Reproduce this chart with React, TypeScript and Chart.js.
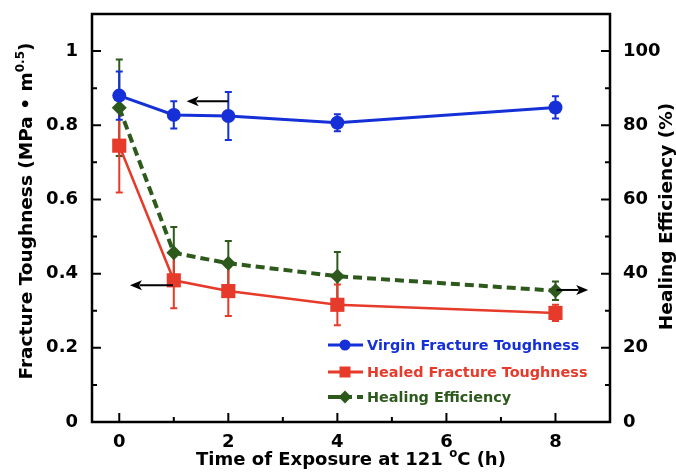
import React, { useEffect, useRef } from 'react';
import { Chart, registerables } from 'chart.js';

Chart.register(...registerables);

// ---- data ----
const hours = [0, 1, 2, 4, 8];
const virgin = [0.88, 0.828, 0.825, 0.807, 0.848];
const virginErr = [0.065, 0.037, 0.065, 0.023, 0.03];
const healed = [0.745, 0.382, 0.353, 0.316, 0.294];
const healedErr = [0.126, 0.075, 0.067, 0.055, 0.022];
const efficiency = [84.7, 45.6, 42.8, 39.3, 35.4];
const efficiencyErr = [13, 7, 6, 6.5, 2.5];

const xTicks = [0, 2, 4, 6, 8];
const xMinorTicks = [1, 3, 5, 7];
const leftTicks = [0, 0.2, 0.4, 0.6, 0.8, 1];
const leftMinorTicks = [0.1, 0.3, 0.5, 0.7, 0.9];
const rightTicks = [0, 20, 40, 60, 80, 100];
const rightMinorTicks = [10, 30, 50, 70, 90];

// arrows (data coordinates, left-axis units)
const arrowFromX = [2.0, 0.985, 8.02];
const arrowToX = [1.236, 0.196, 8.6];
const arrowY = [0.865, 0.369, 0.356];

const seriesNames = ['Virgin Fracture Toughness', 'Healed Fracture Toughness', 'Healing Efficiency'];

const BLUE = '#1530d6';
const RED = '#e63a2a';
const GREEN = '#2d5a1c';
const FONT = '"DejaVu Sans", sans-serif';

function drawRich(ctx: CanvasRenderingContext2D, parts: { t: string; sup?: boolean }[], size: number) {
  const widths = parts.map((p) => {
    ctx.font = `bold ${p.sup ? size * 0.65 : size}px ${FONT}`;
    return ctx.measureText(p.t).width;
  });
  const total = widths.reduce((a, b) => a + b, 0);
  let x = -total / 2;
  ctx.textAlign = 'left';
  ctx.textBaseline = 'alphabetic';
  parts.forEach((p, i) => {
    ctx.font = `bold ${p.sup ? size * 0.65 : size}px ${FONT}`;
    ctx.fillText(p.t, x, p.sup ? -size * 0.45 : 0);
    x += widths[i];
  });
}

const decorPlugin = {
  id: 'decor',
  beforeDatasetsDraw(chart: any) {
    const ctx: CanvasRenderingContext2D = chart.ctx;
    const xs = chart.scales.x;
    const yl = chart.scales.y;
    const yr = chart.scales.y1;
    const bars = [
      { vals: efficiency, err: efficiencyErr, sc: yr, color: GREEN, cap: 3.5 },
      { vals: healed, err: healedErr, sc: yl, color: RED, cap: 3.5 },
      { vals: virgin, err: virginErr, sc: yl, color: BLUE, cap: 3.5 },
    ];
    ctx.save();
    ctx.lineWidth = 2;
    bars.forEach((b) => {
      ctx.strokeStyle = b.color;
      hours.forEach((h, i) => {
        const px = xs.getPixelForValue(h);
        const t = b.sc.getPixelForValue(b.vals[i] + b.err[i]);
        const bt = b.sc.getPixelForValue(b.vals[i] - b.err[i]);
        ctx.beginPath();
        ctx.moveTo(px, t);
        ctx.lineTo(px, bt);
        ctx.moveTo(px - b.cap, t);
        ctx.lineTo(px + b.cap, t);
        ctx.moveTo(px - b.cap, bt);
        ctx.lineTo(px + b.cap, bt);
        ctx.stroke();
      });
    });
    ctx.restore();
  },
  afterDraw(chart: any) {
    const ctx: CanvasRenderingContext2D = chart.ctx;
    const a = chart.chartArea;
    const xs = chart.scales.x;
    const yl = chart.scales.y;
    const yr = chart.scales.y1;
    ctx.save();
    ctx.strokeStyle = '#000';
    ctx.lineWidth = 2.5;
    ctx.strokeRect(a.left, a.top, a.right - a.left, a.bottom - a.top);
    ctx.lineWidth = 2;
    const major = 9;
    const minor = 5;
    ctx.beginPath();
    xTicks.forEach((v) => {
      const p = xs.getPixelForValue(v);
      ctx.moveTo(p, a.bottom);
      ctx.lineTo(p, a.bottom - major);
    });
    xMinorTicks.forEach((v) => {
      const p = xs.getPixelForValue(v);
      ctx.moveTo(p, a.bottom);
      ctx.lineTo(p, a.bottom - minor);
    });
    leftTicks.forEach((v) => {
      const p = yl.getPixelForValue(v);
      ctx.moveTo(a.left, p);
      ctx.lineTo(a.left + major, p);
    });
    leftMinorTicks.forEach((v) => {
      const p = yl.getPixelForValue(v);
      ctx.moveTo(a.left, p);
      ctx.lineTo(a.left + minor, p);
    });
    rightTicks.forEach((v) => {
      const p = yr.getPixelForValue(v);
      ctx.moveTo(a.right, p);
      ctx.lineTo(a.right - major, p);
    });
    rightMinorTicks.forEach((v) => {
      const p = yr.getPixelForValue(v);
      ctx.moveTo(a.right, p);
      ctx.lineTo(a.right - minor, p);
    });
    ctx.stroke();

    // arrows
    ctx.fillStyle = '#000';
    ctx.strokeStyle = '#000';
    ctx.lineWidth = 2;
    arrowFromX.forEach((fx, i) => {
      const x0 = xs.getPixelForValue(fx);
      const x1 = xs.getPixelForValue(arrowToX[i]);
      const y = yl.getPixelForValue(arrowY[i]);
      const dir = x1 > x0 ? 1 : -1;
      const hl = 12;
      ctx.beginPath();
      ctx.moveTo(x0, y);
      ctx.lineTo(x1 - dir * hl * 0.8, y);
      ctx.stroke();
      ctx.beginPath();
      ctx.moveTo(x1, y);
      ctx.lineTo(x1 - dir * hl, y - 5);
      ctx.lineTo(x1 - dir * hl * 0.75, y);
      ctx.lineTo(x1 - dir * hl, y + 5);
      ctx.closePath();
      ctx.fill();
    });

    // legend
    const rows = [
      { name: seriesNames[0], color: BLUE, style: 'circle', y: a.bottom - 77 },
      { name: seriesNames[1], color: RED, style: 'square', y: a.bottom - 50 },
      { name: seriesNames[2], color: GREEN, style: 'diamond', y: a.bottom - 25 },
    ];
    const lx0 = 328;
    const lx1 = 363;
    const mx = 345;
    rows.forEach((r) => {
      ctx.strokeStyle = r.color;
      ctx.fillStyle = r.color;
      ctx.lineWidth = r.style === 'diamond' ? 4 : 3;
      ctx.setLineDash(r.style === 'diamond' ? [24, 5] : []);
      ctx.beginPath();
      ctx.moveTo(lx0, r.y);
      ctx.lineTo(lx1, r.y);
      ctx.stroke();
      ctx.setLineDash([]);
      ctx.beginPath();
      if (r.style === 'circle') {
        ctx.arc(mx, r.y, 5.5, 0, Math.PI * 2);
      } else if (r.style === 'square') {
        ctx.rect(mx - 5.5, r.y - 5.5, 11, 11);
      } else {
        ctx.moveTo(mx - 6.5, r.y);
        ctx.lineTo(mx, r.y - 6.5);
        ctx.lineTo(mx + 6.5, r.y);
        ctx.lineTo(mx, r.y + 6.5);
        ctx.closePath();
      }
      ctx.fill();
      ctx.font = `bold 14.4px ${FONT}`;
      ctx.textAlign = 'left';
      ctx.textBaseline = 'middle';
      ctx.fillText(r.name, 367, r.y + 1);
    });

    // axis titles
    ctx.fillStyle = '#000';
    ctx.save();
    ctx.translate(32, 211);
    ctx.rotate(-Math.PI / 2);
    drawRich(ctx, [{ t: 'Fracture Toughness (MPa \u2022 m' }, { t: '0.5', sup: true }, { t: ')' }], 18.5);
    ctx.restore();

    ctx.save();
    ctx.translate(672, 216.5);
    ctx.rotate(-Math.PI / 2);
    drawRich(ctx, [{ t: 'Healing Efficiency (%)' }], 18.5);
    ctx.restore();

    ctx.save();
    ctx.translate((a.left + a.right) / 2, 465);
    drawRich(ctx, [{ t: 'Time of Exposure at 121 ' }, { t: 'o', sup: true }, { t: 'C (h)' }], 18);
    ctx.restore();

    ctx.restore();
  },
};

export default function App() {
  const ref = useRef<HTMLCanvasElement | null>(null);
  useEffect(() => {
    if (!ref.current) return;
    const tickFont = { family: FONT, size: 18, weight: 'bold' as const };
    const chart = new Chart(ref.current, {
      type: 'line',
      data: {
        datasets: [
          {
            label: seriesNames[0],
            data: hours.map((h, i) => ({ x: h, y: virgin[i] })),
            yAxisID: 'y',
            borderColor: BLUE,
            backgroundColor: BLUE,
            borderWidth: 3,
            pointStyle: 'circle',
            pointRadius: 7,
            pointBorderWidth: 0,
          },
          {
            label: seriesNames[1],
            data: hours.map((h, i) => ({ x: h, y: healed[i] })),
            yAxisID: 'y',
            borderColor: RED,
            backgroundColor: RED,
            borderWidth: 2.5,
            pointStyle: 'rect',
            pointRadius: 10,
            pointBorderWidth: 0,
          },
          {
            label: seriesNames[2],
            data: hours.map((h, i) => ({ x: h, y: efficiency[i] })),
            yAxisID: 'y1',
            borderColor: GREEN,
            backgroundColor: GREEN,
            borderWidth: 4,
            borderDash: [9, 5],
            pointStyle: 'rectRot',
            pointRadius: 7.5,
            pointBorderWidth: 0,
          },
        ],
      },
      options: {
        responsive: false,
        animation: false,
        layout: { padding: { top: 14, left: 0, right: 0, bottom: 0 } },
        plugins: { legend: { display: false }, tooltip: { enabled: false } },
        scales: {
          x: {
            type: 'linear',
            min: -0.5,
            max: 9,
            grid: { display: false, drawTicks: false, tickLength: 0 },
            border: { display: false },
            afterBuildTicks: (s: any) => {
              s.ticks = xTicks.map((v) => ({ value: v }));
            },
            afterFit: (s: any) => {
              s.height = 54;
              s.paddingLeft = 0;
              s.paddingRight = 0;
            },
            ticks: { font: tickFont, color: '#000', padding: 10, callback: (v: any) => String(v) },
          },
          y: {
            type: 'linear',
            position: 'left',
            min: 0,
            max: 1.1,
            grid: { display: false, drawTicks: false, tickLength: 0 },
            border: { display: false },
            afterBuildTicks: (s: any) => {
              s.ticks = leftTicks.map((v) => ({ value: v }));
            },
            afterFit: (s: any) => {
              s.width = 92;
              s.paddingTop = 0;
              s.paddingBottom = 0;
            },
            ticks: {
              font: tickFont,
              color: '#000',
              padding: 14,
              callback: (v: any) => String(Math.round(Number(v) * 10) / 10),
            },
          },
          y1: {
            type: 'linear',
            position: 'right',
            min: 0,
            max: 110,
            grid: { display: false, drawTicks: false, tickLength: 0 },
            border: { display: false },
            afterBuildTicks: (s: any) => {
              s.ticks = rightTicks.map((v) => ({ value: v }));
            },
            afterFit: (s: any) => {
              s.width = 66;
              s.paddingTop = 0;
              s.paddingBottom = 0;
            },
            ticks: { font: tickFont, color: '#000', padding: 13, callback: (v: any) => String(v) },
          },
        },
      },
      plugins: [decorPlugin],
    });
    return () => chart.destroy();
  }, []);

  return (
    <div style={{ position: 'fixed', left: 0, top: 0, width: 676, height: 476, background: '#fff' }}>
      <canvas ref={ref} width={676} height={476} style={{ display: 'block' }} />
    </div>
  );
}
